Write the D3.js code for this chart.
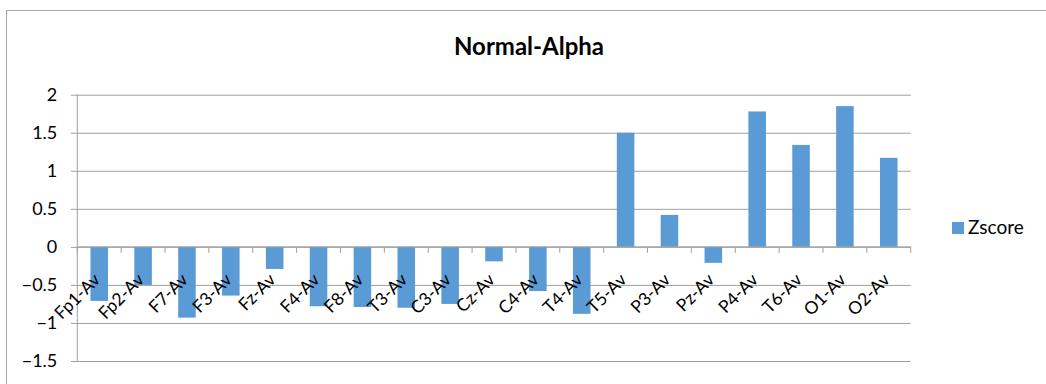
<!DOCTYPE html>
<html>
<head>
<meta charset="utf-8">
<script src="https://cdn.jsdelivr.net/npm/d3@7/dist/d3.min.js"></script>
<style>
  html, body { margin: 0; padding: 0; background: #fff; }
  svg { display: block; }
  text { font-family: Lato, "Open Sans", sans-serif; fill: #000; }
</style>
</head>
<body>
<svg id="chart" width="1046" height="384"></svg>
<script>
const categories = ["Fp1-Av","Fp2-Av","F7-Av","F3-Av","Fz-Av","F4-Av","F8-Av","T3-Av","C3-Av","Cz-Av","C4-Av","T4-Av","T5-Av","P3-Av","Pz-Av","P4-Av","T6-Av","O1-Av","O2-Av"];
const zscore = [-0.71,-0.50,-0.93,-0.64,-0.29,-0.78,-0.79,-0.80,-0.75,-0.19,-0.58,-0.88,1.50,0.42,-0.21,1.78,1.34,1.85,1.17];
const yTicks = [-1.5,-1,-0.5,0,0.5,1,1.5,2];
const seriesName = "Zscore";
const title = "Normal-Alpha";

(function () {
const svg = d3.select("#chart");
const pl = 77.3, pr = 910.7, pt = 94.7, pb = 361;
const gridColor = "#a0a0a0";
const barColor = "#5b9bd5";

// chart border
svg.append("rect").attr("x", 6.5).attr("y", 10.5).attr("width", 1100).attr("height", 400)
  .attr("fill", "none").attr("stroke", "#a6a6a6").attr("stroke-width", 1);

const x = d3.scaleBand().domain(categories).range([pl, pr]).paddingInner(0.6).paddingOuter(0.3);
const y = d3.scaleLinear().domain([-1.5, 2]).range([pb, pt]);

// y gridlines + labels via axis
const yAxis = d3.axisLeft(y).tickValues(yTicks).tickSize(-(pr - pl)).tickFormat(d3.format("~g")).tickPadding(20);
const gy = svg.append("g").attr("transform", `translate(${pl},0)`).call(yAxis);
gy.select(".domain").remove();
gy.selectAll(".tick line").attr("stroke", gridColor).attr("x1", -6.5).attr("x2", pr - pl);
gy.selectAll(".tick text").attr("font-size", 18).attr("font-family", "Lato").attr("fill", "#000");

// y axis line
svg.append("line").attr("x1", pl).attr("x2", pl).attr("y1", pt).attr("y2", pb)
  .attr("stroke", gridColor);

// bars
svg.append("g").selectAll("rect").data(categories).join("rect")
  .attr("x", d => x(d))
  .attr("width", x.bandwidth())
  .attr("y", (d, i) => y(Math.max(0, zscore[i])))
  .attr("height", (d, i) => Math.abs(y(zscore[i]) - y(0)))
  .attr("fill", barColor);

// x axis at zero with boundary ticks
const boundaries = d3.range(categories.length + 1).map(i => pl + i * (pr - pl) / categories.length);
const gx = svg.append("g");
gx.append("line").attr("x1", pl).attr("x2", pr).attr("y1", y(0)).attr("y2", y(0)).attr("stroke", gridColor);
gx.selectAll("line.tk").data(boundaries).join("line").attr("class", "tk")
  .attr("x1", d => d).attr("x2", d => d).attr("y1", y(0)).attr("y2", y(0) + 6).attr("stroke", gridColor);

// category labels, rotated -45
const xa = d3.axisBottom(x).tickSize(0).tickPadding(0);
const gl = svg.append("g").attr("transform", `translate(0,${y(0)})`).call(xa);
gl.select(".domain").remove();
gl.selectAll(".tick text")
  .attr("font-size", 17.5).attr("font-family", "Lato").attr("fill", "#000")
  .attr("text-anchor", "end")
  .attr("dy", 0).attr("y", 0)
  .attr("transform", "translate(2,34) rotate(-45)");

// title
svg.append("text").attr("x", 529).attr("y", 55).attr("text-anchor", "middle")
  .attr("font-size", 24).attr("font-weight", "bold").text(title);

// legend
svg.append("rect").attr("x", 952).attr("y", 222).attr("width", 12).attr("height", 12).attr("fill", barColor);
svg.append("text").attr("x", 968).attr("y", 234).attr("font-size", 19).text(seriesName);
})();
</script>
</body>
</html>
